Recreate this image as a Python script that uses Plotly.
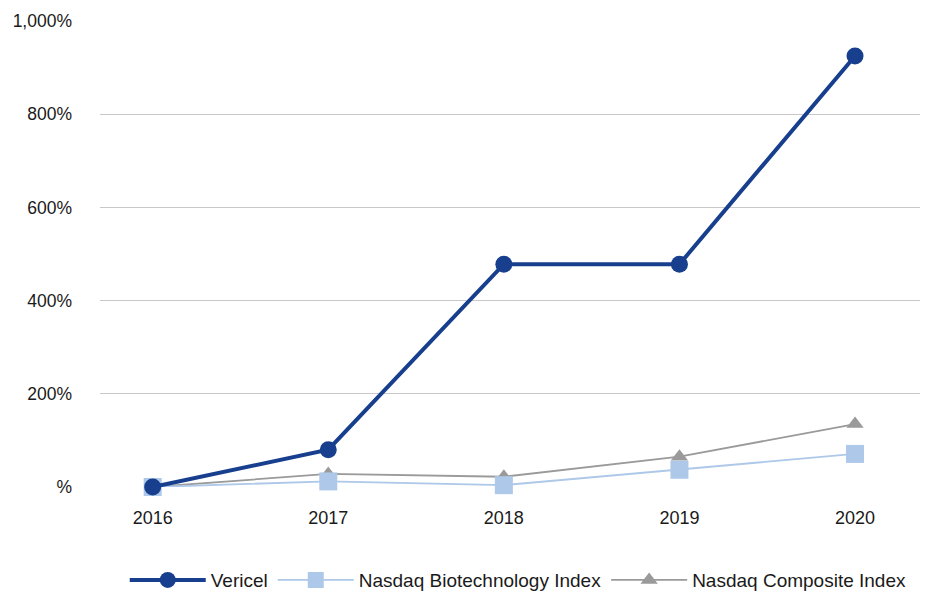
import plotly.graph_objects as go

years = ["2016", "2017", "2018", "2019", "2020"]
vericel = [0, 80, 478, 478, 925]
biotech = [0, 12, 4, 37, 71]
composite = [0, 28, 22, 65, 135]

y_tickvals = [0, 200, 400, 600, 800, 1000]
y_ticktext = ["%", "200%", "400%", "600%", "800%", "1,000%"]

xpos = list(range(len(years)))

fig = go.Figure()
fig.add_trace(go.Scatter(
    x=xpos, y=composite, name="Nasdaq Composite Index", mode="lines+markers",
    line=dict(color="#9a9a9a", width=1.8),
    marker=dict(symbol="triangle-up", size=15, color="#9a9a9a"),
    legendrank=3, cliponaxis=False))
fig.add_trace(go.Scatter(
    x=xpos, y=biotech, name="Nasdaq Biotechnology Index", mode="lines+markers",
    line=dict(color="#adc8e8", width=1.8),
    marker=dict(symbol="square", size=18, color="#adc8e8"),
    legendrank=2, cliponaxis=False))
fig.add_trace(go.Scatter(
    x=xpos, y=vericel, name="Vericel", mode="lines+markers",
    line=dict(color="#173f8e", width=4),
    marker=dict(symbol="circle", size=17, color="#173f8e"),
    legendrank=1, cliponaxis=False))

fig.update_layout(
    width=926, height=584,
    margin=dict(l=92, r=14, t=13, b=105, autoexpand=False),
    paper_bgcolor="white", plot_bgcolor="white",
    font=dict(family="Liberation Sans, Arial, sans-serif", size=17, color="#1a1a1a"),
    showlegend=True,
    legend=dict(orientation="h", x=0.551, xanchor="center", xref="container",
                y=0.0205, yanchor="middle", yref="container",
                font=dict(size=19, color="#1a1a1a"), itemwidth=76,
                traceorder="normal"),
    xaxis=dict(range=[-0.3, 4.37], tickvals=xpos, ticktext=years,
               showgrid=False, zeroline=False, showline=False, ticks="",
               ticklabelstandoff=18, tickfont=dict(size=18)),
    yaxis=dict(range=[0, 1000], tickvals=y_tickvals, ticktext=y_ticktext,
               showgrid=True, gridcolor="#c8c8c8", gridwidth=1,
               zeroline=False, showline=False, ticks="",
               ticklabelstandoff=27, tickfont=dict(size=17.5)),
)

fig.write_html("out.html")
